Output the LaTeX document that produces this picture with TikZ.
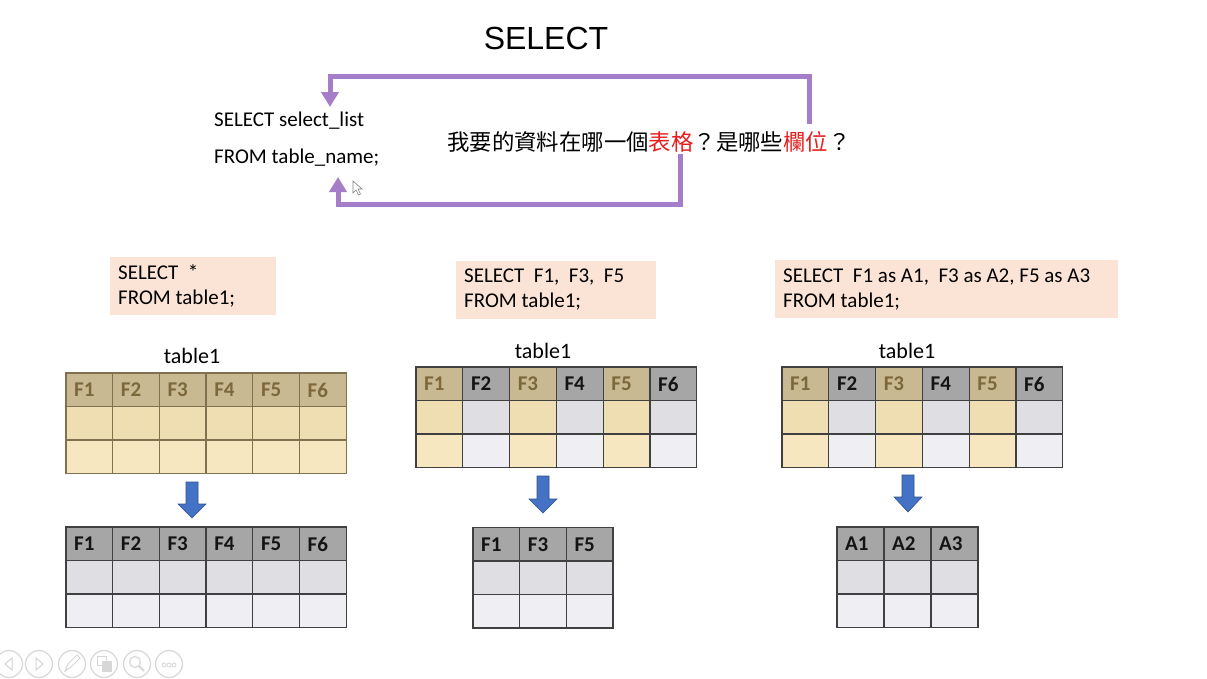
\documentclass[tikz,border=0pt]{standalone}
\usepackage{fontspec}
\setmainfont{Carlito}
\newfontfamily\arialf{Liberation Sans}
\newfontfamily\cjk{Noto Sans CJK TC}
\usetikzlibrary{arrows.meta}
\definecolor{tH}{RGB}{201,185,146}
\definecolor{tA}{RGB}{238,222,178}
\definecolor{tB}{RGB}{246,231,193}
\definecolor{tT}{RGB}{125,104,60}
\definecolor{gH}{RGB}{166,166,166}
\definecolor{gA}{RGB}{223,222,227}
\definecolor{gB}{RGB}{239,238,243}
\definecolor{gT}{RGB}{20,20,20}
\definecolor{tanline}{RGB}{128,114,80}
\definecolor{greyline}{RGB}{64,64,64}
\definecolor{purp}{RGB}{166,125,200}
\definecolor{salmon}{RGB}{251,228,214}
\definecolor{cred}{RGB}{232,30,30}
\definecolor{barrow}{RGB}{68,114,196}
\definecolor{barrowedge}{RGB}{47,82,143}
\definecolor{uigrey}{RGB}{215,215,215}
\tikzset{
  sqlbox/.style={fill=salmon},
  sqltext/.style={font=\fontsize{21}{25}\selectfont, align=left, anchor=west, inner sep=0pt},
  tlabel/.style={font=\fontsize{22}{26}\selectfont, inner sep=0pt},
  hdrtext/.style={font=\fontsize{21}{24}\selectfont\bfseries, anchor=west, inner sep=0pt},
  loop/.style={draw=purp, line width=5pt, line join=miter, -{Triangle[width=17pt,length=15pt]}},
  blockarrow/.style={fill=barrow, draw=barrowedge, line width=0.6pt},
  uicirc/.style={draw=uigrey, line width=1.2pt},
}
% #1 left, #2 top, #3 column width, #4 list label/type, #5 name prefix, #6 line colour
\newcommand\mktable[6]{%
  \foreach \lab/\typ [count=\i from 0] in {#4} {
    \pgfmathsetmacro\xa{#1+\i*#3}
    \pgfmathsetmacro\xb{#1+(\i+1)*#3}
    \fill[fill=\typ H] (\xa,#2) rectangle (\xb,#2+33.5);
    \fill[fill=\typ A] (\xa,#2+33.5) rectangle (\xb,#2+67);
    \fill[fill=\typ B] (\xa,#2+67) rectangle (\xb,#2+100.5);
  }
  \foreach \lab/\typ [count=\i from 0] in {#4} {
    \pgfmathsetmacro\xa{#1+\i*#3}
    \pgfmathsetmacro\xb{#1+(\i+1)*#3}
    \draw[#6, line width=1.3pt] (\xa,#2) rectangle (\xb,#2+33.5);
    \draw[#6, line width=1.3pt] (\xa,#2+33.5) rectangle (\xb,#2+67);
    \draw[#6, line width=1.3pt] (\xa,#2+67) rectangle (\xb,#2+100.5);
    \node[hdrtext, text=\typ T] (#5-\i) at (\xa+8,#2+17) {\lab};
  }
}
\newcommand\blockarr[5]{% #1 name, #2 centre x, #3 top, #4 head start, #5 tip
  \draw[blockarrow] (#2-6,#3) -- (#2+6,#3) -- (#2+6,#4) -- (#2+14,#4) -- (#2,#5)
    -- (#2-14,#4) -- (#2-6,#4) -- cycle;
  \coordinate (#1) at (#2,#5);
}
\begin{document}
\begin{tikzpicture}[x=1pt,y=-1pt]
\useasboundingbox (0,0) rectangle (1207,678);
\fill[white] (0,0) rectangle (1207,678);

% title
\node[font=\arialf\fontsize{32}{36}\selectfont, inner sep=0pt] (title) at (546,38) {SELECT};

% syntax
\node[sqltext] (selline) at (214,121) {SELECT select\_list};
\node[sqltext] (fromline) at (214,158) {FROM table\_name;};
\node[font=\cjk\fontsize{22.4}{26}\selectfont, anchor=west, inner sep=0pt] (question) at (447,142)
  {我要的資料在哪一個\textcolor{cred}{表格}？是哪些\textcolor{cred}{欄位}？};

\coordinate (qcol) at (809,124);
\coordinate (qtab) at (680,154);
\coordinate (selin) at (330,107);
\coordinate (fromin) at (338,177);
\draw[loop] (qcol) -- (809,76) -- (330,76) -- (selin);
\draw[loop] (qtab) -- (680,204.5) -- (338,204.5) -- (fromin);

% mouse pointer
\draw[fill=white, draw=gray, line width=0.6pt] (353,181) -- (353,193) -- (356,190) -- (358.5,195)
  -- (360.5,194) -- (358,189) -- (362,189) -- cycle;

% SQL boxes
\fill[sqlbox] (110,257) rectangle (276,315);
\node[sqltext] (sql1) at (118,286) {SELECT\ \ *\\FROM table1;};
\fill[sqlbox] (456,261) rectangle (656,319);
\node[sqltext] (sql2) at (464,290) {SELECT\ \ F1,\ \ F3,\ \ F5\\FROM table1;};
\fill[sqlbox] (775,260) rectangle (1118,318);
\node[sqltext] (sql3) at (783,290) {SELECT\ \ F1 as A1,\ \ F3 as A2, F5 as A3\\FROM table1;};

% table labels
\node[tlabel] (lab1) at (192,356) {table1};
\node[tlabel] (lab2) at (543,351) {table1};
\node[tlabel] (lab3) at (907,351) {table1};

% source tables
\mktable{66}{373}{46.7}{F1/t,F2/t,F3/t,F4/t,F5/t,F6/t}{srcA}{tanline}
\mktable{416}{367}{46.8}{F1/t,F2/g,F3/t,F4/g,F5/t,F6/g}{srcB}{greyline}
\mktable{782}{367}{46.8}{F1/t,F2/g,F3/t,F4/g,F5/t,F6/g}{srcC}{greyline}

% arrows
\blockarr{arrA}{192}{482}{504}{518}
\blockarr{arrB}{543}{476}{499}{513}
\blockarr{arrC}{908}{475}{497}{512}

% result tables
\mktable{66}{527}{46.7}{F1/g,F2/g,F3/g,F4/g,F5/g,F6/g}{resA}{greyline}
\mktable{473}{527.5}{46.7}{F1/g,F3/g,F5/g}{resB}{greyline}
\mktable{837}{527}{47}{A1/g,A2/g,A3/g}{resC}{greyline}

% slideshow toolbar
\draw[uicirc] (9,664) circle (13.5);
\draw[uicirc] (39,664) circle (13.5);
\draw[uicirc] (72,664) circle (13.5);
\draw[uicirc] (104,664) circle (13.5);
\draw[uicirc] (137,664) circle (13.5);
\draw[uicirc] (169,664) circle (13.5);
\draw[uicirc, line width=1pt] (12,658) -- (5,664) -- (12,670) -- cycle;
\draw[uicirc, line width=1pt] (36,658) -- (43,664) -- (36,670) -- cycle;
\draw[uicirc, line width=1pt] (65,671) -- (68,664) -- (77,655) -- (80,658) -- (71,667) -- cycle;
\draw[uicirc, line width=1pt] (97,656) rectangle (106,665);
\draw[uicirc, fill=uigrey, line width=1pt] (102,661) rectangle (111,671);
\draw[uicirc, line width=1.2pt] (135,662) circle (5.5);
\draw[uicirc, line width=2pt] (139,666) -- (144,671);
\draw[uicirc, line width=0.8pt] (164,665) circle (2);
\draw[uicirc, line width=0.8pt] (169,665) circle (2);
\draw[uicirc, line width=0.8pt] (174,665) circle (2);
\end{tikzpicture}
\end{document}
